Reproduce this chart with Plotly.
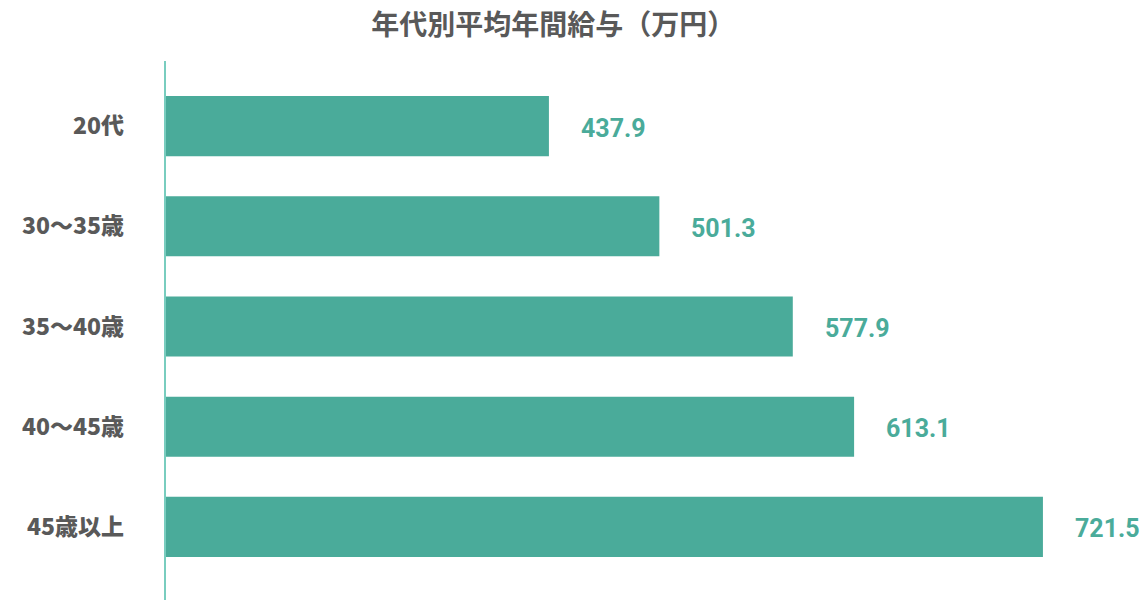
import plotly.graph_objects as go

# 年代別平均年間給与（万円）
categories = ["20代", "30～35歳", "35～40歳", "40～45歳", "45歳以上"]
salary = [437.9, 501.3, 577.9, 613.1, 721.5]
value_labels = ["437.9", "501.3", "577.9", "613.1", "721.5"]

bar_color = "#4AAB9A"
text_gray = "#595959"
jp_font = "Noto Sans CJK JP, Roboto, sans-serif"
num_font = "Roboto, sans-serif"

fig = go.Figure()
fig.add_trace(go.Bar(
    x=salary, y=categories, orientation="h",
    marker=dict(color=bar_color, line=dict(width=0)),
    width=0.6, hoverinfo="skip",
))

# value labels placed to the right of each bar
for c, v, t in zip(categories, salary, value_labels):
    fig.add_annotation(x=v, y=c, text="<b>%s</b>" % t, showarrow=False,
                       xanchor="left", xshift=30, yshift=-2,
                       font=dict(family=num_font, size=25, color=bar_color))

# axis line running past the bars
fig.add_shape(type="line", xref="paper", yref="paper", x0=0, x1=0,
              y0=-0.05, y1=1.03, layer="above",
              line=dict(color="#79CDBF", width=2))

fig.update_layout(
    width=1143, height=600,
    paper_bgcolor="white", plot_bgcolor="white",
    margin=dict(l=165, r=83, t=76, b=23, autoexpand=False),
    title=dict(text="<b>年代別平均年間給与（万円）</b>", x=0.484, xanchor="center",
               y=0.958, yanchor="middle",
               font=dict(family=jp_font, size=28, color=text_gray, weight=900)),
    showlegend=False,
    xaxis=dict(range=[217.5, 731.3], visible=False, fixedrange=True),
    yaxis=dict(autorange="reversed", showgrid=False, zeroline=False,
               showline=False, ticks="", ticklabelstandoff=40, automargin=False,
               fixedrange=True,
               tickfont=dict(family=jp_font, size=23, color=text_gray, weight=900)),
)

# drop the browser's default page margin so the chart sits at the window edge
fig.write_html("out.html", config={"displayModeBar": False},
               post_script="document.body.style.margin='0px';")
